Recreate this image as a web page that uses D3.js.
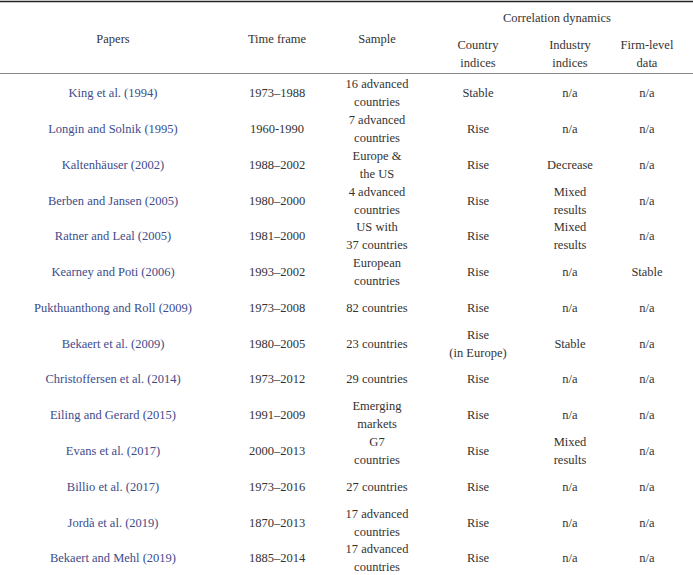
<!DOCTYPE html>
<html><head><meta charset="utf-8">
<script src="https://cdn.jsdelivr.net/npm/d3@7"></script>
<style>body{margin:0;background:#fff}svg{display:block}text{font-family:"Liberation Serif","DejaVu Serif",serif;}</style>
</head><body>
<script>
const papers = ["King et al. (1994)","Longin and Solnik (1995)","Kaltenhäuser (2002)","Berben and Jansen (2005)","Ratner and Leal (2005)","Kearney and Poti (2006)","Pukthuanthong and Roll (2009)","Bekaert et al. (2009)","Christoffersen et al. (2014)","Eiling and Gerard (2015)","Evans et al. (2017)","Billio et al. (2017)","Jordà et al. (2019)","Bekaert and Mehl (2019)"];
const timeFrames = ["1973–1988","1960-1990","1988–2002","1980–2000","1981–2000","1993–2002","1973–2008","1980–2005","1973–2012","1991–2009","2000–2013","1973–2016","1870–2013","1885–2014"];
const samples = ["16 advanced\ncountries","7 advanced\ncountries","Europe &\nthe US","4 advanced\ncountries","US with\n37 countries","European\ncountries","82 countries","23 countries","29 countries","Emerging\nmarkets","G7\ncountries","27 countries","17 advanced\ncountries","17 advanced\ncountries"];
const countryIdx = ["Stable","Rise","Rise","Rise","Rise","Rise","Rise","Rise\n(in Europe)","Rise","Rise","Rise","Rise","Rise","Rise"];
const industryIdx = ["n/a","n/a","Decrease","Mixed\nresults","Mixed\nresults","n/a","n/a","Stable","n/a","n/a","Mixed\nresults","n/a","n/a","n/a"];
const firmLevel = ["n/a","n/a","n/a","n/a","n/a","Stable","n/a","n/a","n/a","n/a","n/a","n/a","n/a","n/a"];
const columnKeys = ["papers","time","sample","country","industry","firm"];
const headers = ["Papers","Time frame","Sample","Country\nindices","Industry\nindices","Firm-level\ndata"];
const groupHeader = "Correlation dynamics";

const W = 693, H = 575;
const fs = 12.5, lh = 18;
const svg = d3.select("body").append("svg").attr("width", W).attr("height", H);

const x = d3.scaleOrdinal().domain(columnKeys).range([113, 277, 377, 478, 570, 647]);
const y = d3.scaleBand().domain(d3.range(papers.length)).range([75, 575.8]);

const cols = [papers, timeFrames, samples, countryIdx, industryIdx, firmLevel];

function multiline(g, txt, cx, cy, color) {
  const lines = txt.split("\n");
  const t = g.append("text").attr("x", cx).attr("text-anchor", "middle")
    .style("font-size", fs + "px").attr("fill", color);
  lines.forEach((ln, i) => {
    t.append("tspan").attr("x", cx)
      .attr("y", cy + (i - (lines.length - 1) / 2) * lh)
      .attr("dy", "0.35em").text(ln);
  });
}

// rules
svg.append("line").attr("x1", 0).attr("x2", W).attr("y1", 1.5).attr("y2", 1.5)
  .attr("stroke", "#222").attr("stroke-width", 1.6);
svg.append("line").attr("x1", 0).attr("x2", W).attr("y1", 73.5).attr("y2", 73.5)
  .attr("stroke", "#8a8a8a").attr("stroke-width", 1);

// header
const hg = svg.append("g");
multiline(hg, groupHeader, 557, 18, "#333");
headers.forEach((h, i) => {
  const cy = i < 3 ? 39 : 54;
  multiline(hg, h, x(columnKeys[i]), cy, "#333");
});

// body
const bg = svg.append("g");
cols.forEach((col, ci) => {
  col.forEach((v, ri) => {
    multiline(bg, v, x(columnKeys[ci]), y(ri) + y.bandwidth() / 2, ci === 0 ? "#3d4c8c" : "#333");
  });
});
</script>
</body></html>
